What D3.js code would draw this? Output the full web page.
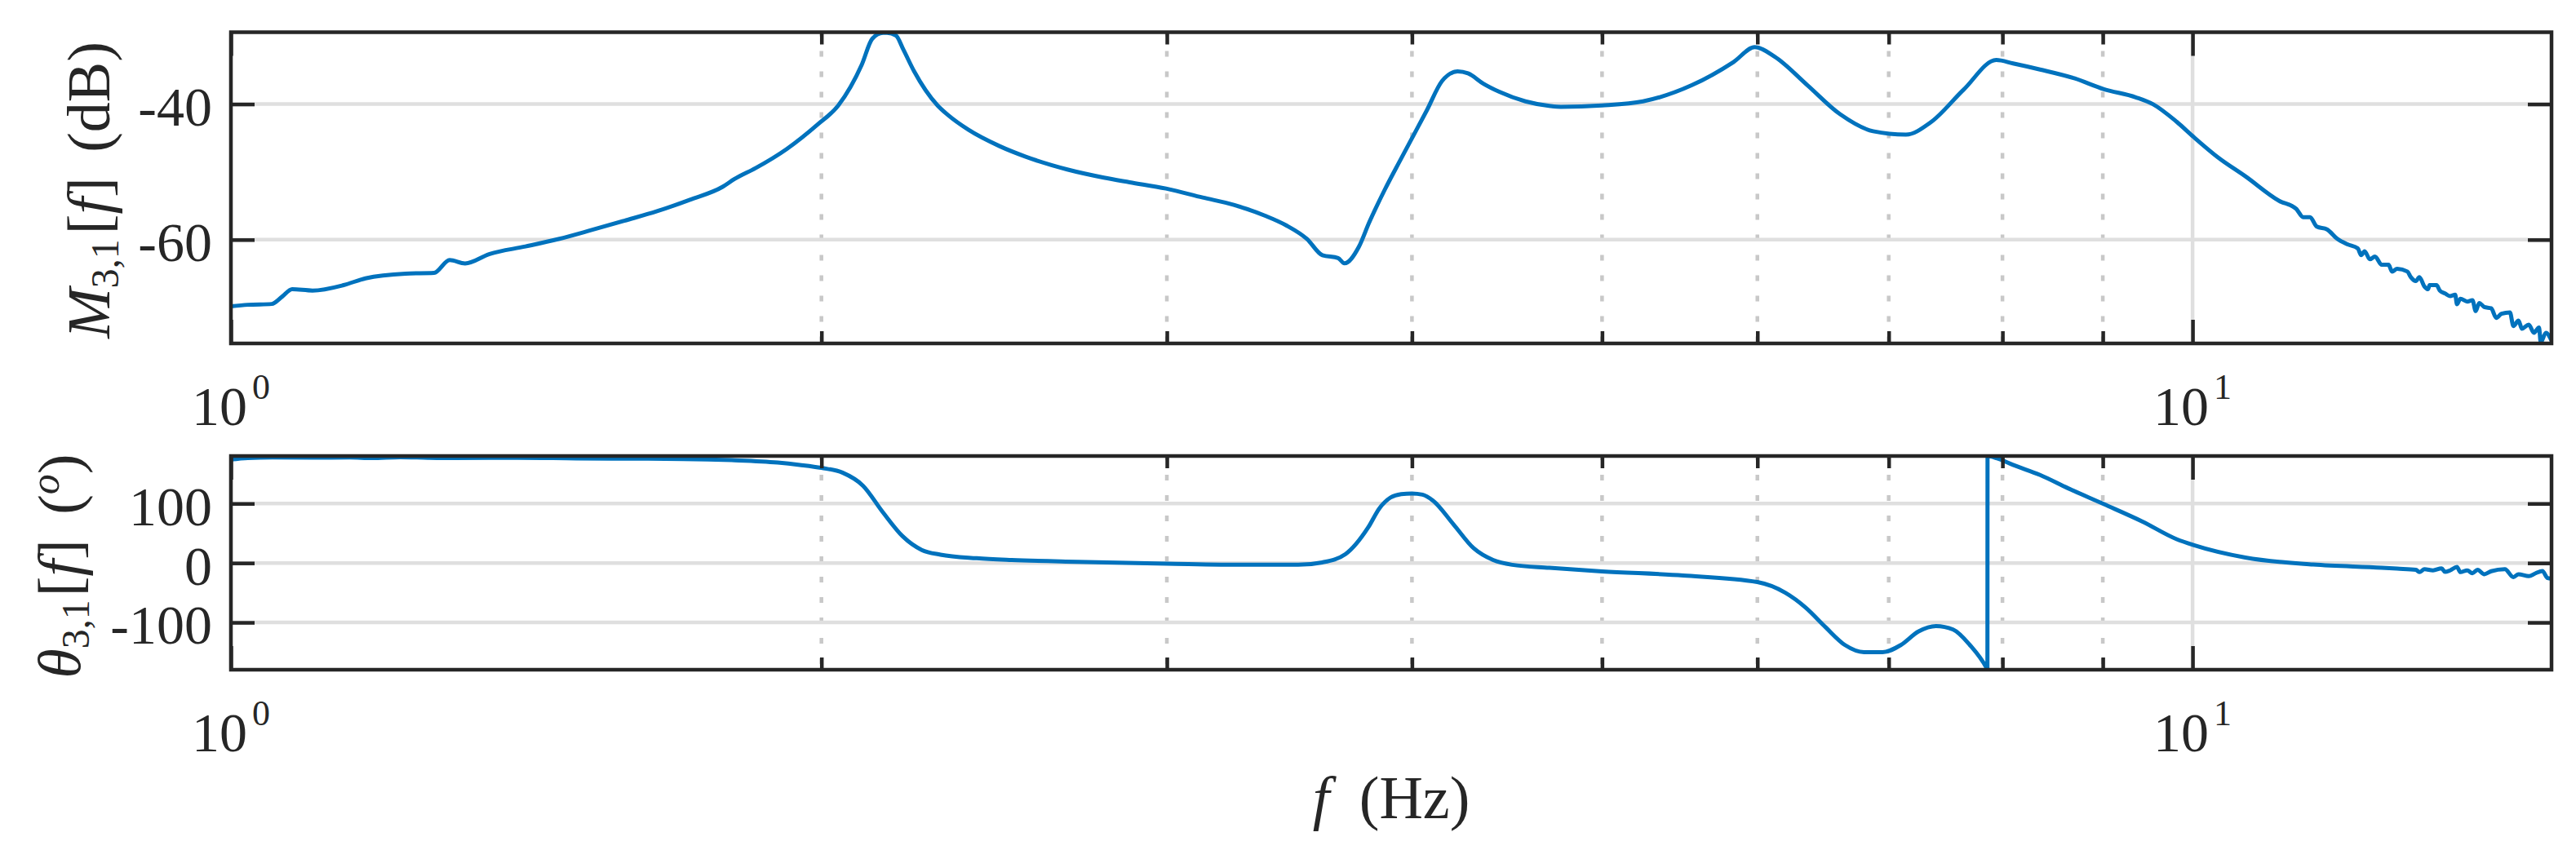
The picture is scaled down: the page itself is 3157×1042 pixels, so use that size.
<!DOCTYPE html>
<html><head><meta charset="utf-8">
<script src="https://cdn.jsdelivr.net/npm/d3@7"></script>
<style>
html,body{margin:0;padding:0;background:#fff;}
svg{display:block;}
text{font-family:"Liberation Serif","Times New Roman",Times,serif;fill:#262626;}
</style></head><body>
<svg id="chart" width="3157" height="1042"></svg>
<script>
// ---- data (frequency in Hz) ----
const magFreq = [1.000,1.020,1.049,1.062,1.0745,1.1005,1.1414,1.1711,1.2274,1.2693,1.2927,1.3163,1.3549,1.413,1.469,1.526,1.587,1.649,1.714,1.781,1.806,1.851,1.920,1.991,2.040,2.097,2.123,2.150,2.160,2.183,2.202,2.230,2.292,2.320,2.377,2.465,2.542,2.669,2.786,2.872,2.997,3.129,3.245,3.367,3.451,3.536,3.601,3.668,3.695,3.758,3.804,3.874,3.946,4.007,4.069,4.144,4.220,4.272,4.350,4.432,4.570,4.706,4.764,5.0,5.246,5.557,5.834,5.982,6.122,6.362,6.612,6.873,7.143,7.353,7.642,7.942,8.10,8.361,8.703,9.012,9.355,9.544,9.815,10.01,10.30,10.64,11.07,11.295,11.386,11.478,11.570,11.710,11.852,11.995,12.140,12.189,12.238,12.313,12.387,12.486,12.587,12.638,12.714,12.868,12.919,12.997,13.050,13.129,13.182,13.208,13.315,13.369,13.448,13.529,13.611,13.639,13.694,13.805,13.889,13.943,13.999,14.084,14.198,14.284,14.370,14.514,14.573,14.661,14.720,14.839,14.929,15.018,15.048,15.139,15.243];
const magDb = [-69.84,-69.6,-69.48,-68.4,-67.3,-67.5,-66.7,-65.7,-65.0,-64.9,-63.0,-63.5,-62.1,-61.0,-59.9,-58.6,-57.2,-55.8,-54.1,-52.2,-51.05,-49.45,-46.63,-43.01,-40.2,-34.18,-30.36,-29.5,-29.5,-29.9,-31.98,-35.18,-40.2,-41.6,-43.8,-46.2,-47.76,-49.64,-50.84,-51.53,-52.46,-53.78,-54.87,-56.47,-57.88,-59.88,-62.29,-62.70,-63.49,-61.08,-57.47,-52.65,-48.24,-44.63,-41.01,-36.59,-35.18,-35.47,-36.99,-38.19,-39.6,-40.29,-40.4,-40.2,-39.6,-37.2,-33.8,-31.6,-33.0,-37.2,-41.5,-44.0,-44.5,-42.7,-37.9,-33.5,-34.0,-34.9,-36.19,-37.8,-39.0,-40.0,-42.61,-44.82,-47.83,-50.65,-54.27,-55.47,-56.67,-56.67,-58.07,-58.48,-59.88,-60.69,-61.29,-62.29,-61.69,-62.89,-62.49,-63.70,-63.70,-64.70,-64.30,-64.70,-65.51,-66.11,-65.51,-66.92,-67.31,-66.71,-66.71,-67.52,-67.92,-68.31,-68.12,-69.52,-68.72,-69.12,-68.92,-70.53,-69.33,-69.93,-70.12,-71.53,-70.93,-70.72,-72.73,-71.93,-73.13,-72.53,-73.73,-72.94,-75.14,-73.73,-74.94];

const phaseFreq = [1.000,1.02,1.05,1.10,1.15,1.18,1.22,1.26,1.3,1.4,1.5,1.6,1.7,1.8,1.9,1.95,2.0,2.05,2.1,2.15,2.2,2.25,2.3,2.4,2.5,2.7,3.0,3.3,3.5,3.6,3.7,3.8,3.85,3.9,3.95,4.0,4.05,4.1,4.2,4.3,4.4,4.5,4.7,5.0,5.5,6.0,6.2,6.35,6.5,6.65,6.8,6.95,7.1,7.25,7.4,7.55,7.7,7.85,7.86,7.861,7.95,8.1,8.361,8.637,9.012,9.43,9.815,10.01,10.64,11.52,12.486,12.714,12.997,13.050,13.129,13.261,13.395,13.448,13.529,13.639,13.694,13.805,13.889,13.972,14.084,14.198,14.428,14.573,14.661,14.839,14.958,15.078,15.169,15.243];
const phaseDeg = [174,176.5,177.5,177.2,177.5,176.5,178,177,176.5,177,176,175.5,175,173,169,165,160,152,130,85,45,22,14,8,5,2,-1,-3,-3,1,15,60,92,110,116,117,115,105,65,25,5,-3,-8,-14,-21,-32,-50,-75,-108,-138,-150,-150,-138,-115,-106,-112,-138,-176,-179.5,180,176,165,148.1,126.0,99.0,69.6,40.1,30.3,9.2,-2.6,-7.9,-9.4,-11.4,-15.3,-10.4,-12.4,-8.9,-14.8,-12.4,-6.5,-15.3,-12.4,-17.2,-11.4,-18.8,-13.8,-10.4,-23.7,-18.8,-22.2,-17.2,-13.4,-25.2,-26.2];

const xMajorTicks = [1, 10];
const xMajorExponents = ["0", "1"];
const xMinorTicks = [2, 3, 4, 5, 6, 7, 8, 9];
const magTicks = [-60, -40];
const phaseTicks = [-100, 0, 100];

// ---- layout ----
const AX = "#262626", BLUE = "#0072BD", GRID = "#dfdfdf", MINOR = "#c8c8c8";
const FONT = '"Liberation Serif","Times New Roman",Times,serif';
const left = 283, right = 3127;
const svg = d3.select("#chart");
const x = d3.scaleLog().domain([1, 15.24]).range([left, right]);

const panels = [
  {top: 39.5, bottom: 421, domain: [-75.3, -29.4], ticks: magTicks, freq: magFreq, vals: magDb, id: "mag"},
  {top: 559, bottom: 821, domain: [-179.5, 180], ticks: phaseTicks, freq: phaseFreq, vals: phaseDeg, id: "ph"}
];

panels.forEach(p => {
  const y = d3.scaleLinear().domain(p.domain).range([p.bottom, p.top]);
  const g = svg.append("g");
  svg.append("clipPath").attr("id", "clip-" + p.id)
    .append("rect").attr("x", left).attr("y", p.top).attr("width", right - left).attr("height", p.bottom - p.top);

  // minor x grid (dotted)
  g.append("g").selectAll("line").data(xMinorTicks).join("line")
    .attr("x1", d => x(d)).attr("x2", d => x(d))
    .attr("y1", p.top).attr("y2", p.bottom)
    .attr("stroke", MINOR).attr("stroke-width", 4.5)
    .attr("stroke-dasharray", "7 18").attr("stroke-dashoffset", -23);
  // major x grid
  g.append("g").selectAll("line").data(xMajorTicks).join("line")
    .attr("x1", d => x(d)).attr("x2", d => x(d))
    .attr("y1", p.top).attr("y2", p.bottom)
    .attr("stroke", GRID).attr("stroke-width", 4.5);
  // y grid
  g.append("g").selectAll("line").data(p.ticks).join("line")
    .attr("x1", left).attr("x2", right)
    .attr("y1", d => y(d)).attr("y2", d => y(d))
    .attr("stroke", GRID).attr("stroke-width", 4.5);

  // data line
  const pts = p.freq.map((f, i) => [f, p.vals[i]]);
  g.append("path").datum(pts)
    .attr("clip-path", "url(#clip-" + p.id + ")")
    .attr("fill", "none").attr("stroke", BLUE).attr("stroke-width", 5)
    .attr("stroke-linejoin", "round")
    .attr("d", d3.line().curve(d3.curveMonotoneX).x(d => x(d[0])).y(d => y(d[1])));

  // axes (ticks inside)
  const styleAxis = sel => {
    sel.select(".domain").remove();
    sel.selectAll(".tick line").attr("stroke", AX).attr("stroke-width", 4.5);
  };
  g.append("g").attr("transform", `translate(${left},0)`)
    .call(d3.axisLeft(y).tickValues(p.ticks).tickSize(-29).tickPadding(23).tickFormat(d => String(d)))
    .call(styleAxis)
    .call(s => s.selectAll(".tick text").attr("font-size", 68).attr("dy", "0.38em")
      .attr("font-family", FONT).attr("fill", AX));
  g.append("g").attr("transform", `translate(${right},0)`)
    .call(d3.axisRight(y).tickValues(p.ticks).tickSize(-29).tickFormat(""))
    .call(styleAxis);
  g.append("g").attr("transform", `translate(0,${p.bottom})`)
    .call(d3.axisBottom(x).tickValues(xMajorTicks).tickSize(-29).tickFormat(""))
    .call(styleAxis);
  g.append("g").attr("transform", `translate(0,${p.bottom})`)
    .call(d3.axisBottom(x).tickValues(xMinorTicks).tickSize(-15).tickFormat(""))
    .call(styleAxis);
  g.append("g").attr("transform", `translate(0,${p.top})`)
    .call(d3.axisTop(x).tickValues(xMajorTicks).tickSize(-29).tickFormat(""))
    .call(styleAxis);
  g.append("g").attr("transform", `translate(0,${p.top})`)
    .call(d3.axisTop(x).tickValues(xMinorTicks).tickSize(-15).tickFormat(""))
    .call(styleAxis);

  // box
  g.append("rect").attr("x", left).attr("y", p.top)
    .attr("width", right - left).attr("height", p.bottom - p.top)
    .attr("fill", "none").attr("stroke", AX).attr("stroke-width", 4.5);

  // x tick labels 10^n
  xMajorTicks.forEach((v, i) => {
    const t = g.append("text").attr("x", x(v)).attr("y", p.bottom + 100)
      .attr("text-anchor", "middle").attr("font-size", 68);
    t.append("tspan").text("10");
    t.append("tspan").attr("font-size", 44).attr("dy", -32).attr("dx", 6).text(xMajorExponents[i]);
  });
});

// y labels
const lab1 = svg.append("text").attr("transform", "translate(134,233) rotate(-90)")
  .attr("text-anchor", "middle").attr("font-size", 74);
lab1.append("tspan").attr("font-style", "italic").text("M");
lab1.append("tspan").attr("font-size", 48).attr("dy", 11).text("3,1");
lab1.append("tspan").attr("dy", -11).attr("dx", 6).text("[");
lab1.append("tspan").attr("font-style", "italic").text("f");
lab1.append("tspan").text("]");
lab1.append("tspan").attr("dx", 12).text(" (dB)");

const lab2 = svg.append("text").attr("transform", "translate(98,694) rotate(-90)")
  .attr("text-anchor", "middle").attr("font-size", 74);
lab2.append("tspan").attr("font-style", "italic").text("θ");
lab2.append("tspan").attr("font-size", 48).attr("dy", 11).text("3,1");
lab2.append("tspan").attr("dy", -11).attr("dx", 4).text("[");
lab2.append("tspan").attr("font-style", "italic").text("f");
lab2.append("tspan").text("]");
lab2.append("tspan").attr("dx", 12).text(" (");
lab2.append("tspan").attr("font-style", "italic").attr("font-size", 50).attr("dy", -26).text("o");
lab2.append("tspan").attr("dy", 26).text(")");

// x label
const xl = svg.append("text").attr("x", (left + right) / 2).attr("y", 1003)
  .attr("text-anchor", "middle").attr("font-size", 74);
xl.append("tspan").attr("font-style", "italic").text("f");
xl.append("tspan").attr("dx", 18).text(" (Hz)");
</script>
</body></html>
